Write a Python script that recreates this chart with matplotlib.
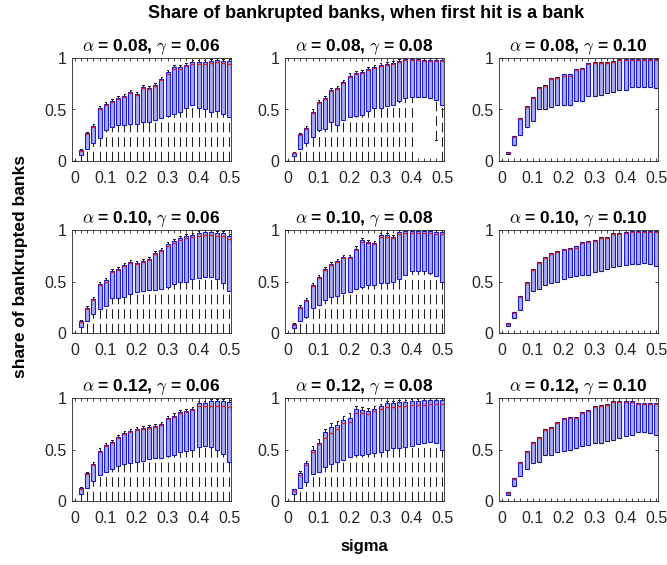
import numpy as np
import matplotlib
matplotlib.use("Agg")
import matplotlib.pyplot as plt

plt.rcParams['font.family'] = ['Liberation Sans', 'DejaVu Sans']
plt.rcParams['mathtext.fontset'] = 'cm'
plt.rcParams['lines.scale_dashes'] = False

# sigma positions of the boxes
sigma = [round(0.02 * i, 2) for i in range(26)]
alphas = ['0.08', '0.10', '0.12']
gammas = ['0.06', '0.08', '0.10']

# alpha = 0.08
q1_a08_g06 = [0, 0.06, 0.12, 0.17, 0.22, 0.30, 0.33, 0.35, 0.35, 0.36, 0.36, 0.38, 0.38, 0.40, 0.42, 0.44, 0.46, 0.48, 0.51, 0.54, 0.51, 0.50, 0.48, 0.49, 0.46, 0.43]
q3_a08_g06 = [0, 0.11, 0.27, 0.34, 0.51, 0.55, 0.58, 0.61, 0.63, 0.67, 0.65, 0.72, 0.71, 0.74, 0.80, 0.86, 0.91, 0.91, 0.93, 0.96, 0.96, 0.96, 0.97, 0.98, 0.97, 0.97]
med_a08_g06 = [0, 0.10, 0.26, 0.33, 0.50, 0.54, 0.57, 0.60, 0.62, 0.66, 0.64, 0.71, 0.70, 0.73, 0.79, 0.84, 0.89, 0.89, 0.92, 0.94, 0.94, 0.94, 0.95, 0.96, 0.95, 0.94]
hi_a08_g06 = [0, 0.12, 0.28, 0.36, 0.53, 0.57, 0.60, 0.63, 0.65, 0.69, 0.67, 0.74, 0.73, 0.76, 0.82, 0.88, 0.93, 0.93, 0.95, 0.98, 0.98, 0.98, 0.99, 1.0, 0.99, 0.99]
lo_a08_g06 = [0.0] * 26

q1_a08_g08 = [0, 0.05, 0.12, 0.17, 0.23, 0.30, 0.31, 0.38, 0.35, 0.40, 0.43, 0.44, 0.45, 0.49, 0.51, 0.51, 0.53, 0.54, 0.58, 0.61, 0.62, 0.62, 0.62, 0.61, 0.59, 0.54]
q3_a08_g08 = [0, 0.08, 0.26, 0.32, 0.48, 0.57, 0.61, 0.69, 0.71, 0.77, 0.83, 0.85, 0.86, 0.89, 0.91, 0.93, 0.94, 0.95, 0.97, 0.99, 0.99, 0.99, 0.98, 0.98, 0.98, 0.98]
med_a08_g08 = [0, 0.08, 0.25, 0.31, 0.47, 0.56, 0.60, 0.68, 0.70, 0.76, 0.82, 0.84, 0.85, 0.88, 0.90, 0.92, 0.93, 0.94, 0.96, 0.98, 0.98, 0.98, 0.97, 0.97, 0.97, 0.97]
hi_a08_g08 = [0, 0.09, 0.27, 0.34, 0.50, 0.59, 0.63, 0.71, 0.73, 0.79, 0.85, 0.87, 0.88, 0.91, 0.93, 0.95, 0.96, 0.97, 0.99, 1.0, 1.0, 1.0, 1.0, 1.0, 1.0, 1.0]
lo_a08_g08 = [0.0] * 21 + [0.62, 0.62, 0.61, 0.20, 0.0]

q1_a08_g10 = [0, 0.07, 0.16, 0.25, 0.33, 0.39, 0.50, 0.50, 0.52, 0.54, 0.54, 0.54, 0.58, 0.58, 0.63, 0.63, 0.64, 0.66, 0.67, 0.69, 0.69, 0.72, 0.72, 0.72, 0.72, 0.71]
q3_a08_g10 = [0, 0.09, 0.24, 0.42, 0.53, 0.62, 0.72, 0.74, 0.81, 0.82, 0.84, 0.84, 0.89, 0.90, 0.95, 0.96, 0.96, 0.96, 0.97, 0.99, 0.99, 0.99, 0.99, 0.99, 0.99, 0.99]
med_a08_g10 = [0, 0.08, 0.23, 0.41, 0.52, 0.61, 0.71, 0.73, 0.80, 0.81, 0.83, 0.83, 0.88, 0.89, 0.94, 0.95, 0.95, 0.95, 0.96, 0.98, 0.98, 0.98, 0.98, 0.98, 0.98, 0.98]

# alpha = 0.10
q1_a10_g06 = [0, 0.06, 0.12, 0.18, 0.23, 0.26, 0.34, 0.34, 0.35, 0.38, 0.40, 0.41, 0.42, 0.42, 0.43, 0.45, 0.48, 0.50, 0.50, 0.52, 0.53, 0.54, 0.54, 0.52, 0.49, 0.41]
q3_a10_g06 = [0, 0.12, 0.24, 0.33, 0.48, 0.51, 0.60, 0.62, 0.66, 0.69, 0.68, 0.70, 0.72, 0.78, 0.81, 0.86, 0.89, 0.92, 0.94, 0.95, 0.97, 0.98, 0.98, 0.97, 0.97, 0.94]
med_a10_g06 = [0, 0.11, 0.23, 0.32, 0.47, 0.50, 0.59, 0.61, 0.65, 0.68, 0.67, 0.69, 0.71, 0.77, 0.80, 0.84, 0.87, 0.90, 0.92, 0.93, 0.94, 0.95, 0.95, 0.94, 0.94, 0.91]
hi_a10_g06 = [0, 0.13, 0.26, 0.35, 0.50, 0.53, 0.62, 0.64, 0.68, 0.71, 0.70, 0.72, 0.74, 0.80, 0.83, 0.88, 0.91, 0.94, 0.96, 0.97, 0.99, 1.0, 1.0, 0.99, 0.99, 0.96]
lo_a10_g06 = [0.0] * 26

q1_a10_g08 = [0, 0.05, 0.12, 0.16, 0.24, 0.27, 0.32, 0.35, 0.36, 0.39, 0.40, 0.43, 0.45, 0.47, 0.47, 0.49, 0.49, 0.50, 0.52, 0.56, 0.60, 0.60, 0.60, 0.58, 0.55, 0.50]
q3_a10_g08 = [0, 0.085, 0.25, 0.32, 0.47, 0.54, 0.62, 0.67, 0.70, 0.74, 0.74, 0.82, 0.90, 0.88, 0.87, 0.95, 0.95, 0.93, 0.98, 0.99, 0.99, 0.99, 0.99, 0.99, 0.98, 0.98]
med_a10_g08 = [0, 0.08, 0.24, 0.31, 0.46, 0.53, 0.61, 0.66, 0.69, 0.73, 0.73, 0.81, 0.88, 0.87, 0.86, 0.93, 0.93, 0.92, 0.96, 0.97, 0.97, 0.97, 0.97, 0.97, 0.96, 0.96]
hi_a10_g08 = [0, 0.10, 0.27, 0.34, 0.49, 0.56, 0.64, 0.69, 0.72, 0.76, 0.76, 0.84, 0.92, 0.90, 0.89, 0.97, 0.97, 0.95, 1.0, 1.0, 1.0, 1.0, 1.0, 1.0, 1.0, 1.0]
lo_a10_g08 = [0.0] * 26

q1_a10_g10 = [0, 0.07, 0.15, 0.22, 0.32, 0.41, 0.43, 0.47, 0.49, 0.50, 0.52, 0.54, 0.55, 0.56, 0.56, 0.59, 0.60, 0.62, 0.64, 0.65, 0.66, 0.67, 0.67, 0.68, 0.67, 0.65]
q3_a10_g10 = [0, 0.10, 0.20, 0.36, 0.50, 0.62, 0.69, 0.74, 0.78, 0.80, 0.82, 0.83, 0.84, 0.88, 0.89, 0.90, 0.93, 0.93, 0.97, 0.97, 0.98, 0.99, 0.99, 0.99, 0.99, 0.99]
med_a10_g10 = [0, 0.09, 0.19, 0.35, 0.49, 0.61, 0.68, 0.73, 0.77, 0.79, 0.81, 0.82, 0.83, 0.87, 0.88, 0.89, 0.92, 0.92, 0.96, 0.96, 0.97, 0.98, 0.98, 0.98, 0.98, 0.98]

# alpha = 0.12
q1_a12_g06 = [0, 0.065, 0.13, 0.19, 0.25, 0.28, 0.31, 0.34, 0.36, 0.37, 0.38, 0.39, 0.41, 0.42, 0.42, 0.44, 0.45, 0.48, 0.49, 0.50, 0.52, 0.53, 0.52, 0.50, 0.46, 0.38]
q3_a12_g06 = [0, 0.13, 0.27, 0.36, 0.49, 0.54, 0.57, 0.62, 0.66, 0.68, 0.70, 0.71, 0.72, 0.73, 0.75, 0.81, 0.83, 0.86, 0.87, 0.89, 0.95, 0.95, 0.97, 0.97, 0.97, 0.96]
med_a12_g06 = [0, 0.12, 0.26, 0.35, 0.48, 0.53, 0.56, 0.61, 0.65, 0.67, 0.69, 0.70, 0.71, 0.72, 0.74, 0.80, 0.82, 0.85, 0.86, 0.88, 0.92, 0.92, 0.92, 0.92, 0.92, 0.91]
hi_a12_g06 = [0, 0.14, 0.28, 0.38, 0.51, 0.56, 0.59, 0.64, 0.68, 0.70, 0.72, 0.73, 0.74, 0.75, 0.77, 0.83, 0.85, 0.88, 0.89, 0.91, 0.97, 0.97, 0.99, 0.99, 0.99, 0.98]
lo_a12_g06 = [0.0] * 26

q1_a12_g08 = [0, 0.07, 0.13, 0.18, 0.26, 0.28, 0.33, 0.36, 0.38, 0.40, 0.43, 0.45, 0.45, 0.46, 0.47, 0.48, 0.50, 0.51, 0.51, 0.52, 0.53, 0.55, 0.56, 0.57, 0.56, 0.50]
q3_a12_g08 = [0, 0.115, 0.27, 0.37, 0.50, 0.56, 0.67, 0.72, 0.74, 0.79, 0.81, 0.89, 0.88, 0.87, 0.89, 0.92, 0.95, 0.95, 0.96, 0.96, 0.97, 0.97, 0.98, 0.98, 0.98, 0.98]
med_a12_g08 = [0, 0.10, 0.25, 0.35, 0.48, 0.55, 0.61, 0.66, 0.70, 0.76, 0.77, 0.85, 0.85, 0.84, 0.87, 0.89, 0.91, 0.91, 0.92, 0.92, 0.93, 0.93, 0.93, 0.94, 0.94, 0.94]
hi_a12_g08 = [0, 0.12, 0.29, 0.39, 0.53, 0.60, 0.70, 0.76, 0.78, 0.83, 0.85, 0.92, 0.91, 0.90, 0.92, 0.94, 0.97, 0.97, 0.98, 0.98, 0.99, 0.99, 1.0, 1.0, 1.0, 1.0]
lo_a12_g08 = [0.0] * 26

q1_a12_g10 = [0, 0.06, 0.15, 0.24, 0.31, 0.37, 0.38, 0.45, 0.45, 0.48, 0.49, 0.50, 0.51, 0.53, 0.54, 0.56, 0.56, 0.58, 0.59, 0.61, 0.63, 0.64, 0.67, 0.67, 0.66, 0.64]
q3_a12_g10 = [0, 0.09, 0.22, 0.38, 0.49, 0.57, 0.62, 0.70, 0.72, 0.77, 0.81, 0.82, 0.82, 0.86, 0.88, 0.92, 0.93, 0.94, 0.97, 0.97, 0.97, 0.97, 0.95, 0.95, 0.95, 0.95]
med_a12_g10 = [0, 0.08, 0.21, 0.37, 0.48, 0.56, 0.61, 0.69, 0.71, 0.76, 0.80, 0.81, 0.81, 0.85, 0.87, 0.91, 0.92, 0.93, 0.96, 0.96, 0.96, 0.96, 0.94, 0.94, 0.94, 0.94]

# (q1, med, q3, lower whisker, upper whisker); None -> no whisker (ends at box)
panels = [
    [(q1_a08_g06, med_a08_g06, q3_a08_g06, lo_a08_g06, hi_a08_g06),
     (q1_a08_g08, med_a08_g08, q3_a08_g08, lo_a08_g08, hi_a08_g08),
     (q1_a08_g10, med_a08_g10, q3_a08_g10, None, None)],
    [(q1_a10_g06, med_a10_g06, q3_a10_g06, lo_a10_g06, hi_a10_g06),
     (q1_a10_g08, med_a10_g08, q3_a10_g08, lo_a10_g08, hi_a10_g08),
     (q1_a10_g10, med_a10_g10, q3_a10_g10, None, None)],
    [(q1_a12_g06, med_a12_g06, q3_a12_g06, lo_a12_g06, hi_a12_g06),
     (q1_a12_g08, med_a12_g08, q3_a12_g08, lo_a12_g08, hi_a12_g08),
     (q1_a12_g10, med_a12_g10, q3_a12_g10, None, None)],
]

W, H = 667, 565
fig = plt.figure(figsize=(W / 100, H / 100), dpi=100)

col_left = [72, 285, 499]
row_top = [58, 230, 398]
ax_w, ax_h = 159, 103

xlabels = ['0' if s == 0 else (f'{s:.1f}' if round(s * 100) % 10 == 0 else '') for s in sigma]

for r in range(3):
    for c in range(3):
        q1, med, q3, lo, hi = panels[r][c]
        if lo is None:
            lo = q1
        if hi is None:
            hi = q3
        stats = []
        for i in range(len(sigma)):
            stats.append(dict(q1=q1[i], med=med[i], q3=q3[i], whislo=lo[i], whishi=hi[i], fliers=[]))
        ax = fig.add_axes([col_left[c] / W, 1 - (row_top[r] + ax_h) / H, ax_w / W, ax_h / H])
        bp = ax.bxp(stats, positions=sigma, widths=0.013, patch_artist=True, manage_ticks=False,
                    showfliers=False, capwidths=0.005,
                    boxprops=dict(facecolor='#a9abf2', edgecolor='#1a1ad8', linewidth=0.8),
                    medianprops=dict(color='#e8202a', linewidth=1.0),
                    whiskerprops=dict(color='#222222', linewidth=0.75, linestyle=(0, (7, 3.5))),
                    capprops=dict(color='#222222', linewidth=0.75))
        # start the dash pattern at the far end, as MATLAB does
        for j, line in enumerate(bp['whiskers']):
            if j % 2 == 0:
                line.set_ydata(line.get_ydata()[::-1])
        ax.set_xlim(-0.009, 0.505)
        ax.set_ylim(0, 1)
        ax.set_xticks(sigma)
        ax.set_xticklabels(xlabels)
        ax.set_yticks([0, 0.5, 1])
        ax.set_yticklabels(['0', '0.5', '1'])
        ax.tick_params(direction='in', length=2.5, width=0.6, top=True, right=True,
                       labelsize=11.5, colors='#262626', pad=4)
        ax.tick_params(axis='x', pad=7)
        for sp in ax.spines.values():
            sp.set_color('#262626')
            sp.set_linewidth(0.6)
        ax.set_title(r'$\alpha$ = ' + alphas[r] + r', $\gamma$ = ' + gammas[c],
                     fontsize=12.5, fontweight='bold', pad=5)

fig.text(366 / W, 1 - 13 / H, 'Share of bankrupted banks, when first hit is a bank',
         ha='center', va='center', fontsize=13, fontweight='bold')
fig.text(364 / W, 1 - 546 / H, 'sigma', ha='center', va='center', fontsize=12, fontweight='bold')
fig.text(21 / W, 1 - 266 / H, 'share of bankrupted banks', ha='center', va='center',
         rotation=90, fontsize=12.5, fontweight='bold')

fig.savefig('out.png', dpi=100)
